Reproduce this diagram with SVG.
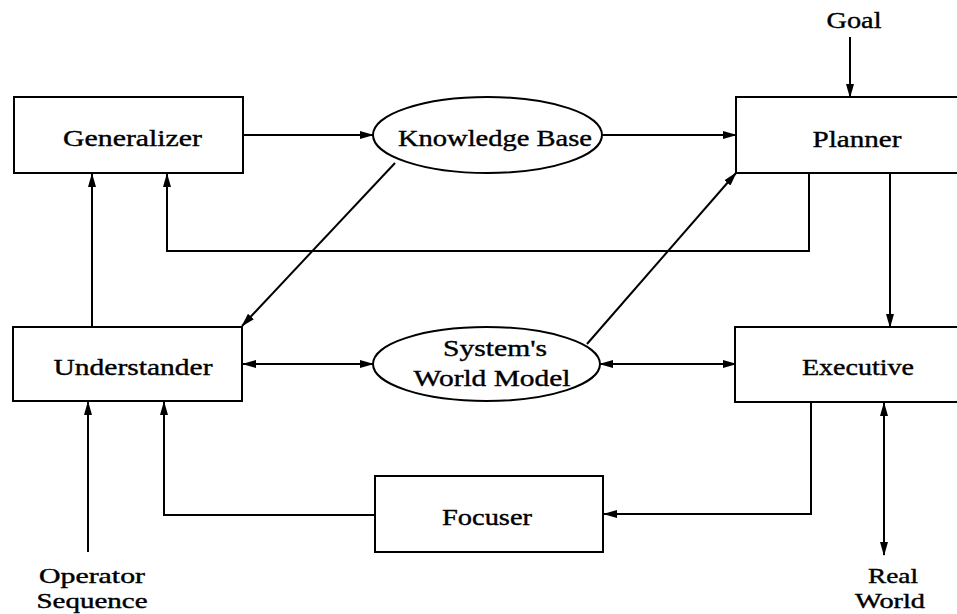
<svg xmlns="http://www.w3.org/2000/svg" width="957" height="614" viewBox="0 0 957 614">
<style>
.box{fill:#fff;stroke:#000;stroke-width:2}
.ell{fill:#fff;stroke:#000;stroke-width:2}
.t{font-family:"Liberation Serif",serif;font-size:24px;fill:#000;stroke:#000;stroke-width:0.4;text-anchor:middle}
.s{font-size:21px}
.c{fill:none;stroke:#000;stroke-width:2}
.a{marker-end:url(#ah)}
.b{marker-start:url(#ah);marker-end:url(#ah)}
</style>
<defs>
<marker id="ah" markerUnits="userSpaceOnUse" markerWidth="14" markerHeight="10" refX="13" refY="4" orient="auto-start-reverse" viewBox="0 0 14 8">
<path d="M0,0 L14,4 L0,8 z" fill="#000"/>
</marker>
</defs>
<rect width="957" height="614" fill="#fff"/>
<g id="connectors">
<line class="c a" x1="850" y1="37" x2="850" y2="97"/>
<line class="c a" x1="244" y1="135" x2="373" y2="135"/>
<line class="c a" x1="602" y1="135" x2="736" y2="135"/>
<polyline class="c a" points="809,173 809,251 167,251 167,174"/>
<line class="c a" x1="890" y1="173" x2="890" y2="327"/>
<line class="c a" x1="92" y1="327" x2="92" y2="174"/>
<line class="c a" x1="395" y1="163" x2="242" y2="326"/>
<line class="c a" x1="587" y1="344" x2="736" y2="173"/>
<line class="c b" x1="243" y1="364" x2="373" y2="364"/>
<line class="c b" x1="600" y1="364" x2="736" y2="364"/>
<polyline class="c a" points="811,402 811,514 604,514"/>
<polyline class="c a" points="375,515 164,515 164,402"/>
<line class="c a" x1="88" y1="552" x2="88" y2="402"/>
<line class="c b" x1="884" y1="403" x2="884" y2="555"/>
</g>
<g id="generalizer">
<rect class="box" x="14" y="97" width="229" height="76"/>
<text class="t" x="132.5" y="146" textLength="139" lengthAdjust="spacingAndGlyphs">Generalizer</text>
</g>
<g id="knowledge-base">
<ellipse class="ell" cx="487.5" cy="135" rx="114.5" ry="38"/>
<text class="t" x="495" y="146" textLength="194" lengthAdjust="spacingAndGlyphs">Knowledge Base</text>
</g>
<g id="planner">
<rect class="box" x="736" y="97" width="240" height="76"/>
<text class="t" x="857" y="147" textLength="89" lengthAdjust="spacingAndGlyphs">Planner</text>
</g>
<g id="goal">
<text class="t" x="854" y="28" textLength="55" lengthAdjust="spacingAndGlyphs">Goal</text>
</g>
<g id="understander">
<rect class="box" x="13" y="327" width="229" height="74"/>
<text class="t" x="133" y="375" textLength="159" lengthAdjust="spacingAndGlyphs">Understander</text>
</g>
<g id="world-model">
<ellipse class="ell" cx="486.5" cy="364" rx="113.5" ry="37"/>
<text class="t" x="495" y="356" textLength="104" lengthAdjust="spacingAndGlyphs">System's</text>
<text class="t" x="492" y="386" textLength="157" lengthAdjust="spacingAndGlyphs">World Model</text>
</g>
<g id="executive">
<rect class="box" x="735" y="327" width="240" height="75"/>
<text class="t" x="858" y="375" textLength="112" lengthAdjust="spacingAndGlyphs">Executive</text>
</g>
<g id="focuser">
<rect class="box" x="375" y="476" width="228" height="76"/>
<text class="t" x="487" y="525" textLength="90" lengthAdjust="spacingAndGlyphs">Focuser</text>
</g>
<g id="operator-sequence">
<text class="t s" x="92" y="583" textLength="106" lengthAdjust="spacingAndGlyphs">Operator</text>
<text class="t s" x="92" y="608" textLength="111" lengthAdjust="spacingAndGlyphs">Sequence</text>
</g>
<g id="real-world">
<text class="t s" x="893" y="583" textLength="50" lengthAdjust="spacingAndGlyphs">Real</text>
<text class="t s" x="890" y="608" textLength="70" lengthAdjust="spacingAndGlyphs">World</text>
</g>
</svg>
